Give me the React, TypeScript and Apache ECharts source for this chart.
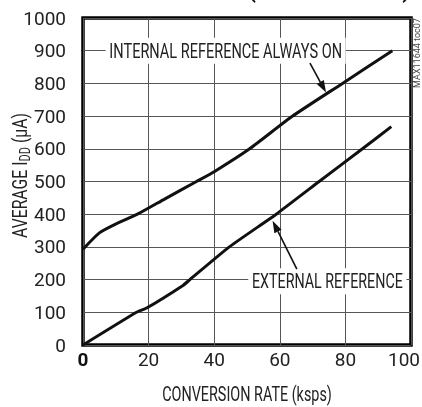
import React, { useEffect, useRef } from 'react';
import * as echarts from 'echarts';

const xTicks = [0, 20, 40, 60, 80, 100];
const internalX = [0, 5, 10, 16.6, 25, 34.6, 40, 50.8, 63.9, 79.1, 94.3];
const internalY = [293, 343, 370, 400, 447, 500, 530, 600, 700, 800, 900];
const externalX = [0, 16.3, 19.4, 30.6, 32.6, 44.6, 58.9, 72, 85.2, 94];
const externalY = [0, 100, 113, 183, 200, 300, 400, 500, 600, 668];

const internalLabel = 'INTERNAL REFERENCE ALWAYS ON';
const externalLabel = 'EXTERNAL REFERENCE';
const xAxisTitle = 'CONVERSION RATE (ksps)';
const yAxisTitleMain = 'AVERAGE I';
const yAxisTitleSub = 'DD';
const yAxisTitleUnit = ' (µA)';
const figureCode = 'MAX11644 toc07';

// annotation anchors in data coordinates
const internalLabelAt = [43.5, 900];
const internalArrowFrom = [69.2, 862];
const internalArrowTo = [74.1, 772];
const externalLabelAt = [74.5, 195];
const externalArrowFrom = [65.2, 232];
const externalArrowTo = [57.8, 380];

const FONT = 'Roboto, sans-serif';

export default function App() {
  const ref = useRef<HTMLDivElement>(null);
  useEffect(() => {
    const chart = echarts.init(ref.current!, null, { renderer: 'svg' });
    const zip = (xs: number[], ys: number[]) => xs.map((x, i) => [x, ys[i]]);
    const ctx = document.createElement('canvas').getContext('2d')!;
    const measure = (text: string, size: number) => {
      ctx.font = `${size}px Roboto`;
      return ctx.measureText(text).width;
    };
    const xMax = xTicks[xTicks.length - 1];
    chart.setOption({
      animation: false,
      grid: {
        left: 83,
        right: 11,
        top: 18,
        bottom: 62,
        show: true,
        containLabel: false,
        outerBoundsMode: 'none',
        borderColor: '#000',
        borderWidth: 3.5,
        backgroundColor: '#fff',
      },
      xAxis: {
        type: 'value',
        min: xTicks[0],
        max: xMax,
        interval: 20,
        axisLine: { show: false },
        axisTick: { show: false },
        splitLine: { show: true, lineStyle: { color: '#555', width: 1 } },
        axisLabel: {
          margin: 5,
          fontFamily: FONT,
          fontSize: 19,
          color: '#222',
          formatter: (v: number) => (v === 0 ? '{b|0}' : v === xMax ? `{m|${v}}` : String(v)),
          rich: {
            b: { fontFamily: FONT, fontSize: 19, fontWeight: 'bold', color: '#111' },
            m: { fontFamily: FONT, fontSize: 19, color: '#222', padding: [0, 14, 0, 0] },
          },
        },
      },
      yAxis: {
        type: 'value',
        min: 0,
        max: 1000,
        interval: 100,
        axisLine: { show: false },
        axisTick: { show: false },
        splitLine: { show: true, lineStyle: { color: '#555', width: 1 } },
        axisLabel: {
          margin: 17,
          fontFamily: FONT,
          fontSize: 19,
          color: '#222',
          formatter: (v: number) => String(v),
        },
      },
      series: [
        {
          type: 'line',
          data: zip(internalX, internalY),
          showSymbol: false,
          smooth: 0.2,
          lineStyle: { color: '#111', width: 3 },
          z: 2,
        },
        {
          type: 'line',
          data: zip(externalX, externalY),
          showSymbol: false,
          smooth: 0.15,
          lineStyle: { color: '#111', width: 3 },
          z: 2,
        },
      ],
    });

    const px = (d: number[]) => chart.convertToPixel({ gridIndex: 0 }, d) as number[];
    const arrow = (fromD: number[], toD: number[]) => {
      const a = px(fromD);
      const b = px(toD);
      const dx = b[0] - a[0];
      const dy = b[1] - a[1];
      const len = Math.hypot(dx, dy);
      const ux = dx / len;
      const uy = dy / len;
      const hl = 12;
      const hw = 4;
      const bx = b[0] - ux * hl;
      const by = b[1] - uy * hl;
      return [
        {
          type: 'line',
          z: 5,
          shape: { x1: a[0], y1: a[1], x2: bx, y2: by },
          style: { stroke: '#111', lineWidth: 1.6 },
        },
        {
          type: 'polygon',
          z: 5,
          shape: {
            points: [
              [b[0], b[1]],
              [bx - uy * hw, by + ux * hw],
              [bx + uy * hw, by - ux * hw],
            ],
          },
          style: { fill: '#111' },
        },
      ];
    };
    const il = px(internalLabelAt);
    const el = px(externalLabelAt);
    const annSize = 20;
    const intScale = 233 / measure(internalLabel, annSize);
    const extScale = 151 / measure(externalLabel, annSize);
    const xNameScale = 170 / measure(xAxisTitle, annSize);
    const yNameWidth =
      measure(yAxisTitleMain, annSize) + measure(yAxisTitleSub, 14) + measure(yAxisTitleUnit, annSize);
    const yNameScale = 125 / yNameWidth;

    chart.setOption({
      graphic: [
        {
          type: 'text',
          z: 1,
          x: il[0],
          y: il[1],
          scaleX: intScale,
          style: {
            text: internalLabel,
            font: `${annSize}px ${FONT}`,
            fill: '#222',
            align: 'center',
            verticalAlign: 'middle',
            backgroundColor: '#fff',
            padding: [3, 5, 3, 5],
          },
        },
        {
          type: 'text',
          z: 1,
          x: el[0],
          y: el[1],
          scaleX: extScale,
          style: {
            text: externalLabel,
            font: `${annSize}px ${FONT}`,
            fill: '#222',
            align: 'center',
            verticalAlign: 'middle',
            backgroundColor: '#fff',
            padding: [3, 5, 3, 5],
          },
        },
        ...arrow(internalArrowFrom, internalArrowTo),
        ...arrow(externalArrowFrom, externalArrowTo),
        {
          type: 'text',
          x: 247,
          y: 394,
          scaleX: xNameScale,
          style: {
            text: xAxisTitle,
            font: `${annSize}px ${FONT}`,
            fill: '#222',
            align: 'center',
            verticalAlign: 'middle',
          },
        },
        {
          type: 'text',
          x: 19.5,
          y: 175.5,
          rotation: Math.PI / 2,
          scaleX: yNameScale,
          style: {
            text: `{a|${yAxisTitleMain}}{s|${yAxisTitleSub}}{a|${yAxisTitleUnit}}`,
            align: 'center',
            verticalAlign: 'middle',
            rich: {
              a: { fontFamily: FONT, fontSize: annSize, fill: '#222', lineHeight: 22 },
              s: { fontFamily: FONT, fontSize: 14, fill: '#222', lineHeight: 14, padding: [10, 0, 0, 0] },
            },
          },
        },
        {
          type: 'text',
          x: 417,
          y: 53,
          rotation: Math.PI / 2,
          style: {
            text: figureCode,
            font: `9px ${FONT}`,
            fill: '#444',
            align: 'center',
            verticalAlign: 'middle',
          },
        },
        {
          type: 'text',
          x: 252,
          y: 1,
          style: { text: '(', font: `bold 22px ${FONT}`, fill: '#111', align: 'center', verticalAlign: 'bottom' },
        },
        {
          type: 'text',
          x: 406,
          y: 1,
          style: { text: ')', font: `bold 22px ${FONT}`, fill: '#111', align: 'center', verticalAlign: 'bottom' },
        },
      ],
    });
    return () => chart.dispose();
  }, []);
  return <div ref={ref} style={{ position: 'fixed', left: 0, top: 0, width: 422, height: 407 }} />;
}
